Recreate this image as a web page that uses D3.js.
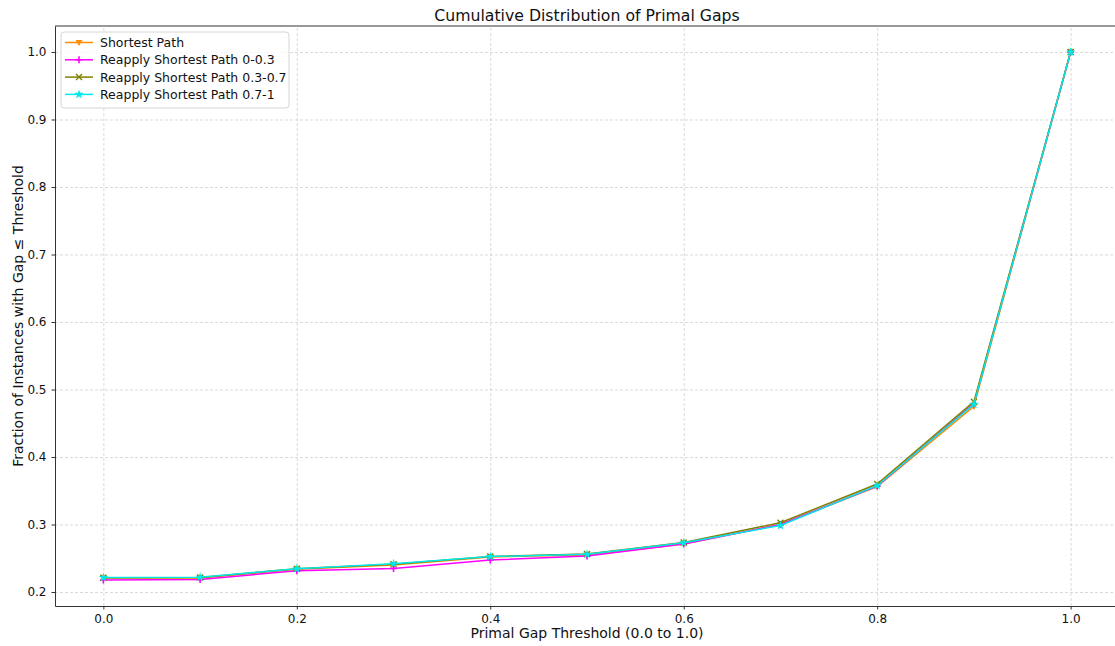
<!DOCTYPE html>
<html>
<head>
<meta charset="utf-8">
<script src="https://cdn.jsdelivr.net/npm/d3@7"></script>
<style>
body { margin: 0; background: #fff; }
text { font-family: "DejaVu Sans", sans-serif; fill: #111; }
.grid line { stroke: #b0b0b0; stroke-opacity: 0.6; stroke-dasharray: 3,2; stroke-width: 0.8; }
.grid .domain { display: none; }
</style>
</head>
<body>
<div id="chart"></div>
<script>
var thresholds = [0.0, 0.1, 0.2, 0.3, 0.4, 0.5, 0.6, 0.7, 0.8, 0.9, 1.0];
var shortestPath = [0.2207, 0.2207, 0.2337, 0.2400, 0.2520, 0.2550, 0.2710, 0.3000, 0.3560, 0.4750, 1.0];
var reapply0003 = [0.2178, 0.2185, 0.2316, 0.2350, 0.2474, 0.2533, 0.2710, 0.3000, 0.3570, 0.4790, 1.0];
var reapply0307 = [0.2210, 0.2215, 0.2345, 0.2410, 0.2525, 0.2565, 0.2735, 0.3027, 0.3600, 0.4820, 1.0];
var reapply0710 = [0.2215, 0.2220, 0.2345, 0.2420, 0.2525, 0.2560, 0.2730, 0.2985, 0.3575, 0.4780, 1.0];
var seriesNames = ["Shortest Path", "Reapply Shortest Path 0-0.3", "Reapply Shortest Path 0.3-0.7", "Reapply Shortest Path 0.7-1"];
var xTicks = [0.0, 0.2, 0.4, 0.6, 0.8, 1.0];
var yTicks = [0.2, 0.3, 0.4, 0.5, 0.6, 0.7, 0.8, 0.9, 1.0];

var colors = ["#ff8c00", "#ff00ff", "#808000", "#00e8e8"];
var markers = ["tri", "plus", "x", "star"];
var series = [shortestPath, reapply0003, reapply0307, reapply0710].map((v, i) => ({
    name: seriesNames[i], color: colors[i], marker: markers[i],
    values: v.map((y, j) => ({ x: thresholds[j], y: y }))
}));

var width = 1115, height = 646;
var margin = { left: 55, top: 26, right: -4, bottom: 40 };
var w = width - margin.left - margin.right, h = height - margin.top - margin.bottom;

var svg = d3.select("#chart").append("svg")
    .attr("width", width)
    .attr("height", height);

var x = d3.scaleLinear().domain([-0.05, 1.05]).range([0, w]);
var y = d3.scaleLinear().domain([0.1793, 1.0385]).range([h, 0]);

var g = svg.append("g").attr("transform", `translate(${margin.left},${margin.top})`);

g.append("g").classed("grid", true)
    .attr("transform", `translate(0,${h})`)
    .call(d3.axisBottom(x).tickValues(xTicks).tickSize(-h).tickFormat(""));
g.append("g").classed("grid", true)
    .call(d3.axisLeft(y).tickValues(yTicks).tickSize(-w).tickFormat(""));

var line = d3.line().x(d => x(d.x)).y(d => y(d.y));

function drawMarker(sel, type, color) {
    if (type == "tri") {
        sel.append("path").attr("d", "M-3.5,-2.5L3.5,-2.5L0,3.5Z").attr("fill", color);
    } else if (type == "plus") {
        sel.append("path").attr("d", "M-3.5,0H3.5M0,-3.5V3.5").attr("stroke", color).attr("stroke-width", 1.6);
    } else if (type == "x") {
        sel.append("path").attr("d", "M-3,-3L3,3M-3,3L3,-3").attr("stroke", color).attr("stroke-width", 1.4);
    } else {
        sel.append("path").attr("d", d3.symbol(d3.symbolStar, 28)()).attr("fill", color);
    }
}

series.forEach(s => {
    g.append("path")
        .datum(s.values)
        .attr("fill", "none")
        .attr("stroke", s.color)
        .attr("stroke-width", 1.5)
        .attr("d", line);
    g.selectAll(null)
        .data(s.values)
        .enter()
        .append("g")
        .attr("transform", d => `translate(${x(d.x)},${y(d.y)})`)
        .each(function () { drawMarker(d3.select(this), s.marker, s.color); });
});

var axisX = g.append("g").attr("transform", `translate(0,${h})`)
    .call(d3.axisBottom(x).tickValues(xTicks).tickFormat(d3.format(".1f")).tickSize(3.5).tickSizeOuter(0).tickPadding(5));
var axisY = g.append("g")
    .call(d3.axisLeft(y).tickValues(yTicks).tickFormat(d3.format(".1f")).tickSize(3.5).tickSizeOuter(0).tickPadding(5));
[axisX, axisY].forEach(a => {
    a.selectAll("text").style("font-size", "12px").style("font-family", "DejaVu Sans").attr("fill", "#111");
    a.select(".domain").attr("stroke", "#333").attr("stroke-width", 1);
    a.selectAll(".tick line").attr("stroke", "#333");
});
g.append("line").attr("x1", 0).attr("x2", w).attr("y1", 0).attr("y2", 0).attr("stroke", "#333");

svg.append("text")
    .attr("x", margin.left + w / 2).attr("y", 21)
    .attr("text-anchor", "middle")
    .style("font-size", "15.7px")
    .text("Cumulative Distribution of Primal Gaps");

svg.append("text")
    .attr("x", margin.left + w / 2).attr("y", 638)
    .attr("text-anchor", "middle")
    .style("font-size", "14px")
    .text("Primal Gap Threshold (0.0 to 1.0)");

svg.append("text")
    .attr("transform", `translate(23,${margin.top + h / 2}) rotate(-90)`)
    .attr("text-anchor", "middle")
    .style("font-size", "14px")
    .text("Fraction of Instances with Gap \u2264 Threshold");

var legend = svg.append("g").attr("transform", "translate(61,32)");
legend.append("rect")
    .attr("width", 228).attr("height", 76).attr("rx", 3)
    .attr("fill", "#fff").attr("fill-opacity", 0.8)
    .attr("stroke", "#d6d6d6");
series.forEach((s, i) => {
    var row = legend.append("g").attr("transform", `translate(0,${10.5 + i * 17.3})`);
    row.append("line").attr("x1", 4).attr("x2", 32).attr("stroke", s.color).attr("stroke-width", 1.5);
    var m = row.append("g").attr("transform", "translate(18,0)");
    drawMarker(m, s.marker, s.color);
    row.append("text").attr("x", 39).attr("y", 4.5).style("font-size", "12.5px").text(s.name);
});
</script>
</body>
</html>
